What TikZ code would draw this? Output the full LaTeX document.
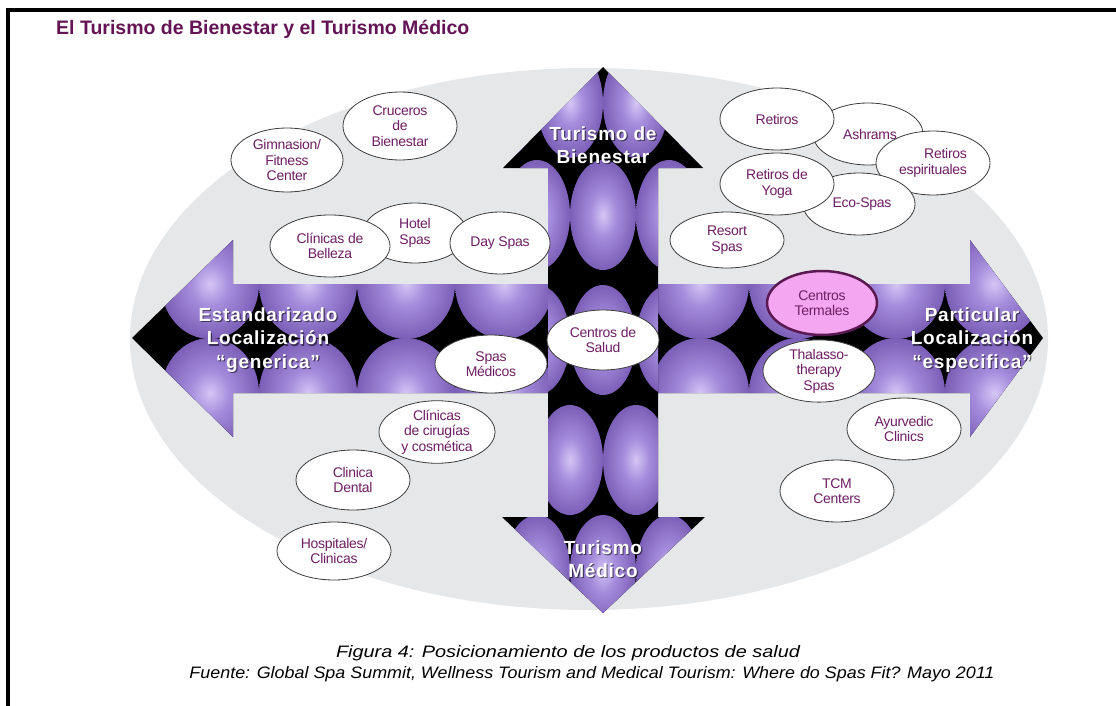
\documentclass[tikz,border=0pt]{standalone}
\usepackage{fontspec}
\setmainfont{Liberation Sans}
\newfontfamily\lblfont[LetterSpace=4]{Liberation Sans}
\newfontfamily\bubfont[LetterSpace=-2]{Liberation Sans}
\usetikzlibrary{shapes.geometric}
\definecolor{bggray}{RGB}{229,231,233}
\definecolor{titlecol}{RGB}{100,20,85}
\definecolor{bubtext}{RGB}{110,30,100}
\definecolor{bubline}{RGB}{60,60,60}
\definecolor{termfill}{RGB}{244,166,240}
\definecolor{termline}{RGB}{90,25,80}
\definecolor{sphA}{RGB}{212,198,245}
\definecolor{sphB}{RGB}{165,140,220}
\definecolor{sphC}{RGB}{115,85,175}
\definecolor{sphD}{RGB}{50,28,85}
\pgfdeclareradialshading{sphere}{\pgfpoint{0bp}{0bp}}{color(0bp)=(sphA); color(10bp)=(sphB); color(28bp)=(sphC); color(42bp)=(sphD); color(49bp)=(black); color(50bp)=(black)}
\tikzset{
  bub/.style={ellipse, draw=bubline, fill=white, line width=0.8pt, inner sep=0pt,
    text=bubtext, align=center, font=\bubfont\fontsize{14}{15.5}\selectfont},
  arrlbl/.style={text=white, align=center, font=\lblfont\bfseries\fontsize{19}{23.5}\selectfont},
  arrshadow/.style={text=black, opacity=0.55, align=center, font=\lblfont\bfseries\fontsize{19}{23.5}\selectfont},
  hsph/.style={shading=sphere},
}
\begin{document}
\begin{tikzpicture}[x=1pt,y=-1pt]
\useasboundingbox (0,0) rectangle (1116,706);
\fill[white] (0,0) rectangle (1116,706);
% frame
\draw[line width=4pt] (8,706) -- (8,10.3) -- (1116,10.3);
% title
\node[anchor=base west, text=titlecol, font=\bfseries\fontsize{19.5}{22}\selectfont, inner sep=0pt] (title) at (56,35) {El Turismo de Bienestar y el Turismo Médico};
% background ellipse
\fill[bggray] (589,339) ellipse [x radius=459pt, y radius=271pt];
% horizontal arrow
\begin{scope}
  \clip (132,338) -- (233,240) -- (233,284) -- (970,284) -- (970,240) -- (1043,338) -- (970,437) -- (970,393) -- (233,393) -- (233,437) -- cycle;
  \fill[black] (100,200) rectangle (1100,480);
  \foreach \x in {112,210,308,406,504,602,700,798,896,994,1092}{
    \foreach \y in {284,393}{
      \shade[hsph] (\x,\y) ellipse [x radius=49pt, y radius=55pt];
    }
  }
\end{scope}
% vertical arrow
\begin{scope}
  \clip (603,67) -- (703,168) -- (658,168) -- (658,517) -- (705,517) -- (603,613) -- (502,517) -- (548,517) -- (548,168) -- (503,168) -- cycle;
  \fill[black] (480,50) rectangle (730,630);
  \foreach \x in {504,570,636,702}{
    \shade[hsph] (\x,103) ellipse [x radius=33pt, y radius=55pt];
    \shade[hsph] (\x,460) ellipse [x radius=33pt, y radius=55pt];
  }
  \foreach \x in {537,603,669}{
    \shade[hsph] (\x,215) ellipse [x radius=33pt, y radius=55pt];
    \shade[hsph] (\x,340) ellipse [x radius=33pt, y radius=55pt];
    \shade[hsph] (\x,570) ellipse [x radius=33pt, y radius=55pt];
  }
\end{scope}
% arrow labels
\node[arrshadow] (lblLs) at (269.2,341.2) {Estandarizado\\Localización\\“generica”};
\node[arrlbl] (lblL) at (268,340) {Estandarizado\\Localización\\“generica”};
\node[arrshadow] (lblRs) at (973.2,341.2) {Particular\\Localización\\“especifica”};
\node[arrlbl] (lblR) at (972,340) {Particular\\Localización\\“especifica”};
\node[arrshadow] (lblUs) at (604.2,146.2) {Turismo de\\Bienestar};
\node[arrlbl] (lblU) at (603,145) {Turismo de\\Bienestar};
\node[arrshadow] (lblDs) at (604.2,560.2) {Turismo\\Médico};
\node[arrlbl] (lblD) at (603,559) {Turismo\\Médico};
% bubbles upper left
\node[bub, minimum width=112pt, minimum height=64pt] (gim) at (287,160) {Gimnasion/\\Fitness\\Center};
\node[bub, minimum width=114pt, minimum height=68pt] (cru) at (400,126) {Cruceros\\de\\Bienestar};
\node[bub, minimum width=104pt, minimum height=60pt] (hot) at (415,233) {Hotel\\Spas};
\node[bub, minimum width=120pt, minimum height=62pt] (bel) at (330,246) {Clínicas de\\Belleza};
\node[bub, minimum width=100pt, minimum height=62pt] (day) at (500,243) {Day Spas};
% bubbles upper right
\node[bub, minimum width=110pt, minimum height=62pt] (ash) at (868,134) {\hspace*{4pt}Ashrams};
\node[bub, minimum width=114pt, minimum height=62pt] (ret) at (777,119) {Retiros};
\node[bub, minimum width=114pt, minimum height=64pt, align=right] (esp) at (933,163) {Retiros\\espirituales};
\node[bub, minimum width=112pt, minimum height=62pt] (eco) at (859,204) {\hspace*{6pt}Eco-Spas};
\node[bub, minimum width=114pt, minimum height=62pt] (yog) at (777,184) {Retiros de\\Yoga};
\node[bub, minimum width=114pt, minimum height=56pt] (res) at (727,240) {Resort\\Spas};
% centre row
\node[bub, minimum width=110pt, minimum height=64pt, fill=termfill, draw=termline, line width=2.5pt] (ter) at (822,303) {Centros\\Termales};
\node[bub, minimum width=112pt, minimum height=62pt] (tha) at (819,371) {Thalasso-\\therapy\\Spas};
\node[bub, minimum width=112pt, minimum height=60pt] (sal) at (603,340) {Centros de\\Salud};
\node[bub, minimum width=112pt, minimum height=58pt] (med) at (491,364) {Spas\\Médicos};
% lower left
\node[bub, minimum width=116pt, minimum height=54pt] (cir) at (437,432) {Clínicas\\de cirugías\\y cosmética};
\node[bub, minimum width=114pt, minimum height=60pt] (den) at (353,480) {Clinica\\Dental};
\node[bub, minimum width=114pt, minimum height=58pt] (hos) at (334,551) {Hospitales/\\Clinicas};
% lower right
\node[bub, minimum width=114pt, minimum height=62pt] (ayu) at (904,429) {Ayurvedic\\Clinics};
\node[bub, minimum width=114pt, minimum height=62pt] (tcm) at (837,491) {TCM\\Centers};
% caption
\node[anchor=base, inner sep=0pt] (cap1) at (568,657) {\resizebox{464pt}{12pt}{\itshape Figura 4: Posicionamiento de los productos de salud}};
\node[anchor=base, inner sep=0pt] (cap2) at (592,678) {\resizebox{805pt}{12pt}{\itshape Fuente: Global Spa Summit, Wellness Tourism and Medical Tourism: Where do Spas Fit? Mayo 2011}};
\end{tikzpicture}
\end{document}
